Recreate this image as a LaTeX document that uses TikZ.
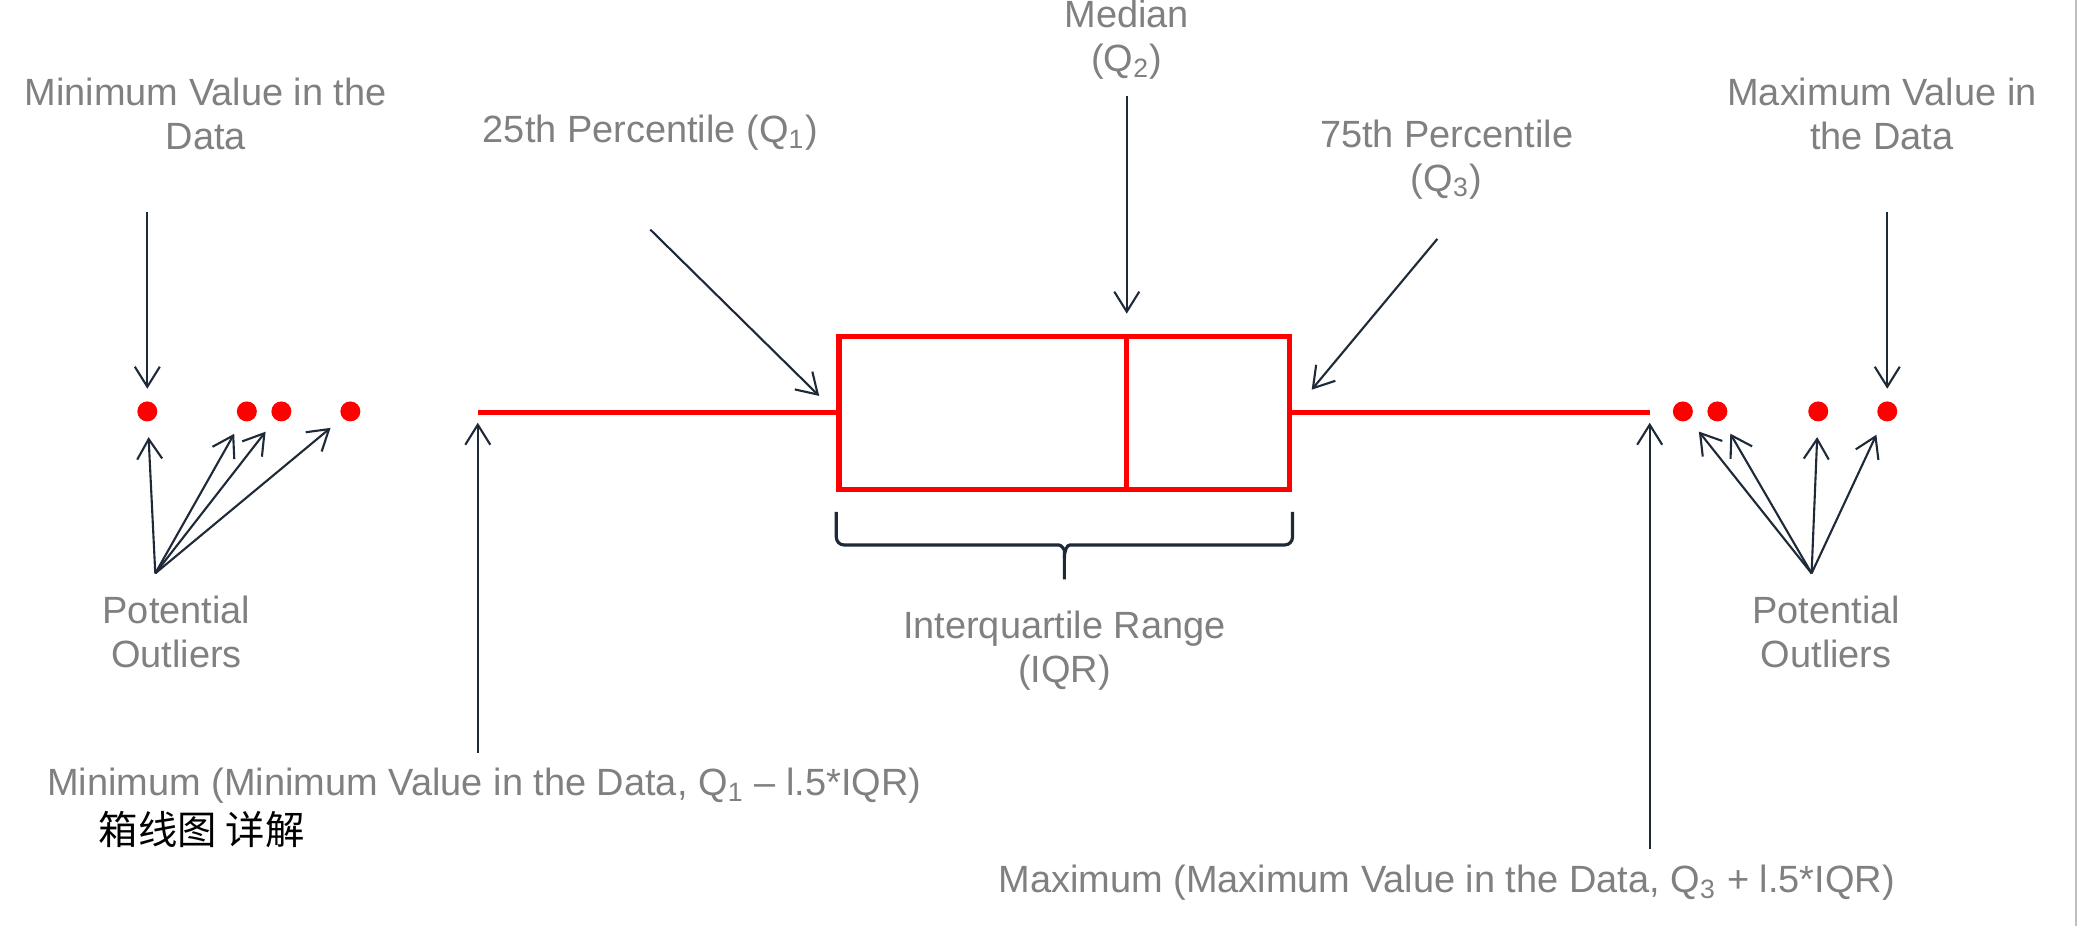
\documentclass[tikz,border=0pt]{standalone}
\usepackage{fontspec}
\setmainfont{Liberation Sans}
\newfontfamily\cjkfont{Noto Sans CJK SC}
\usepackage{tikz}
\usetikzlibrary{arrows.meta,positioning,calc,decorations.pathreplacing}
\definecolor{bpred}{HTML}{FF0000}
\definecolor{bpgray}{HTML}{808080}
\definecolor{bpink}{HTML}{1E2A38}
\tikzset{
  bp/label/.style={text=bpgray, align=center, inner sep=0pt, font=\fontsize{10.8pt}{12.5pt}\selectfont},
  bp/title/.style={text=black, inner sep=0pt, font=\cjkfont\fontsize{11.2pt}{13pt}\selectfont},
  bp/arrow/.style={draw=bpink, line width=0.6pt, -{Straight Barb[length=2mm,width=2.5mm]}},
  bp/box/.style={draw=bpred, line width=1.5pt, inner sep=0pt, minimum width=4.51cm, minimum height=1.53cm},
  bp/whisker/.style={draw=bpred, line width=1.5pt},
  bp/dot/.style={circle, fill=bpred, inner sep=0pt, minimum size=2mm},
  bp/brace/.style={draw=bpink, line width=0.9pt, rounded corners=2.2pt},
  bp/edge/.style={draw=black!25, line width=0.6pt}
}

\begin{document}
\begin{tikzpicture}[x=0.01327cm, y=-0.01327cm]
  \useasboundingbox (0,0) rectangle (1568,698);
  \draw[bp/edge] (1564,0) -- (1564,698);

  % box and whiskers
  \node[bp/box] (box) at (802,311) {};
  \coordinate (q2) at (849,311);
  \draw[bp/whisker] (q2 |- box.north) -- (q2 |- box.south);
  \coordinate (lowend) at (360,311);
  \coordinate (highend) at (1243,311);
  \draw[bp/whisker] (lowend) -- (box.west);
  \draw[bp/whisker] (box.east) -- (highend);

  % IQR bracket
  \coordinate (bl) at ($(box.south west)+(0,15)$);
  \coordinate (br) at ($(box.south east)+(0,15)$);
  \coordinate (btip) at ($(box.south)+(0,66)$);
  \draw[bp/brace] (bl) |- ($(btip)+(-10,-26)$)
    .. controls ($(btip)+(-2,-26)$) and ($(btip)+(0,-22)$) .. ($(btip)+(0,-16)$) -- (btip);
  \draw[bp/brace] (br) |- ($(btip)+(10,-26)$)
    .. controls ($(btip)+(2,-26)$) and ($(btip)+(0,-22)$) .. ($(btip)+(0,-16)$);

  % outliers
  \foreach \x [count=\i] in {111,186,212,264}
    \node[bp/dot] (lo\i) at (\x,310) {};
  \foreach \x [count=\i] in {1268,1294,1370,1422}
    \node[bp/dot] (hi\i) at (\x,310) {};

  % labels
  \node[bp/label] (minval) at (155,86) {Minimum Value in the\\Data};
  \node[bp/label] (q1lab) at (490,100) {25th Percentile (Q\textsubscript{1})};
  \node[bp/label] (q2lab) at (849,30) {Median\\(Q\textsubscript{2})};
  \node[bp/label] (q3lab) at (1090,120) {75th Percentile\\(Q\textsubscript{3})};
  \node[bp/label] (maxval) at (1418,86) {Maximum Value in\\the Data};
  \node[bp/label] (lopot) at (133,476) {Potential\\Outliers};
  \node[bp/label] (hipot) at (1376,476) {Potential\\Outliers};
  \node[bp/label] (iqr) at (802,490) {Interquartile Range\\(IQR)};
  \node[bp/label] (minlab) at (365,592) {Minimum (Minimum Value in the Data, Q\textsubscript{1} -- l.5*IQR)};
  \node[bp/title] (title) at (152,625) {箱线图 详解};
  \node[bp/label] (maxlab) at (1090,665) {Maximum (Maximum Value in the Data, Q\textsubscript{3} + l.5*IQR)};

  % pointers
  \coordinate (minvaltail) at (111,160);
  \coordinate (q1tail) at (490,173);
  \coordinate (q2tail) at (849,72);
  \coordinate (q3tail) at (1083,180);
  \coordinate (maxvaltail) at (1422,160);
  \coordinate (lofan) at (117,432);
  \coordinate (hifan) at (1365,432);
  \coordinate (mintail) at (360,567);
  \coordinate (maxtail) at (1243,640);

  \draw[bp/arrow, shorten >=1.2mm] (minvaltail) -- (lo1);
  \draw[bp/arrow, shorten >=2.4mm] (q1tail) -- (box.west);
  \draw[bp/arrow, shorten >=2mm] (q2tail) -- (q2 |- box.north);
  \draw[bp/arrow, shorten >=3mm] (q3tail) -- (box.east);
  \draw[bp/arrow, shorten >=1.2mm] (maxvaltail) -- (hi4);
  \foreach \i in {1,...,4} {
    \draw[bp/arrow, shorten >=1.5mm] (lofan) -- (lo\i);
    \draw[bp/arrow, shorten >=1.5mm] (hifan) -- (hi\i);
  }
  \draw[bp/arrow, shorten >=1mm] (mintail) -- (lowend);
  \draw[bp/arrow, shorten >=1mm] (maxtail) -- (highend);
\end{tikzpicture}
\end{document}
